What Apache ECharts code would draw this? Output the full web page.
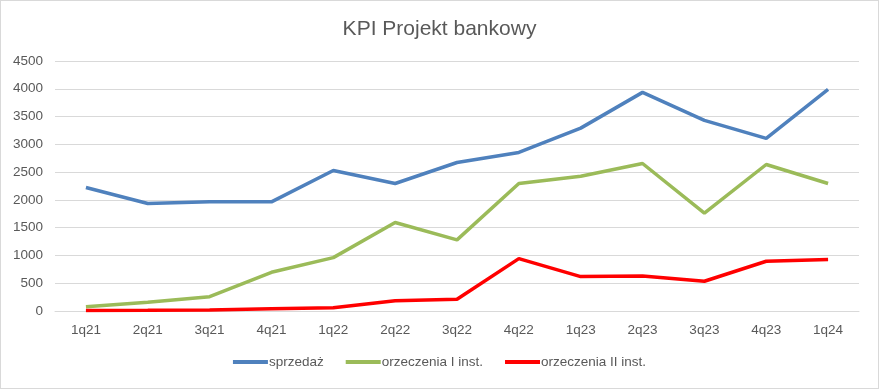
<!DOCTYPE html>
<html><head><meta charset="utf-8">
<script src="https://cdn.jsdelivr.net/npm/echarts@6/dist/echarts.min.js"></script>
<style>html,body{margin:0;padding:0;background:#fff}#c{width:877px;height:387px;border:1px solid #d9d9d9}</style>
</head><body><div id="c"></div>
<script>
const categories = ['1q21','2q21','3q21','4q21','1q22','2q22','3q22','4q22','1q23','2q23','3q23','4q23','1q24'];
const sprzedaz = [2223,1934,1965,1965,2529,2295,2673,2854,3292,3935,3430,3106,3989];
const orzeczenia1 = [78,156,258,697,961,1592,1280,2295,2427,2655,1760,2637,2295];
const orzeczenia2 = [8,12,18,40,60,186,210,943,619,631,535,895,925];
const seriesNames = ['sprzedaż','orzeczenia I inst.','orzeczenia II inst.'];
const colors = ['#4f81bd','#9bbb59','#ff0000'];
const font = 'Liberation Sans, Arial, sans-serif';
const chart = echarts.init(document.getElementById('c'));
const mk = (name, data, color) => ({
  name, type:'line', data, symbol:'none', smooth:false,
  lineStyle:{width:3.5,color}, itemStyle:{color}
});
chart.setOption({
  animation:false,
  title:{text:'KPI Projekt bankowy',left:'center',top:13,textStyle:{fontFamily:font,fontSize:21,fontWeight:'normal',color:'#595959'}},
  grid:{left:54,right:19,top:60,bottom:77},
  xAxis:{type:'category',data:categories,boundaryGap:true,
    axisLine:{lineStyle:{color:'#d9d9d9'}},axisTick:{show:false},
    axisLabel:{fontFamily:font,fontSize:13.5,color:'#595959',margin:12}},
  yAxis:{type:'value',min:0,max:4500,interval:500,
    axisLine:{show:false},axisTick:{show:false},
    splitLine:{lineStyle:{color:'#d9d9d9'}},
    axisLabel:{fontFamily:font,fontSize:13.5,color:'#595959',margin:12,formatter:v=>String(v)}},
  legend:{bottom:14,left:'center',icon:'rect',itemWidth:35,itemHeight:4,itemGap:22,
    textStyle:{fontFamily:font,fontSize:13.5,color:'#595959',padding:[0,0,0,-4]},
    data:seriesNames},
  series:[mk(seriesNames[0],sprzedaz,colors[0]),mk(seriesNames[1],orzeczenia1,colors[1]),mk(seriesNames[2],orzeczenia2,colors[2])]
});
</script></body></html>
